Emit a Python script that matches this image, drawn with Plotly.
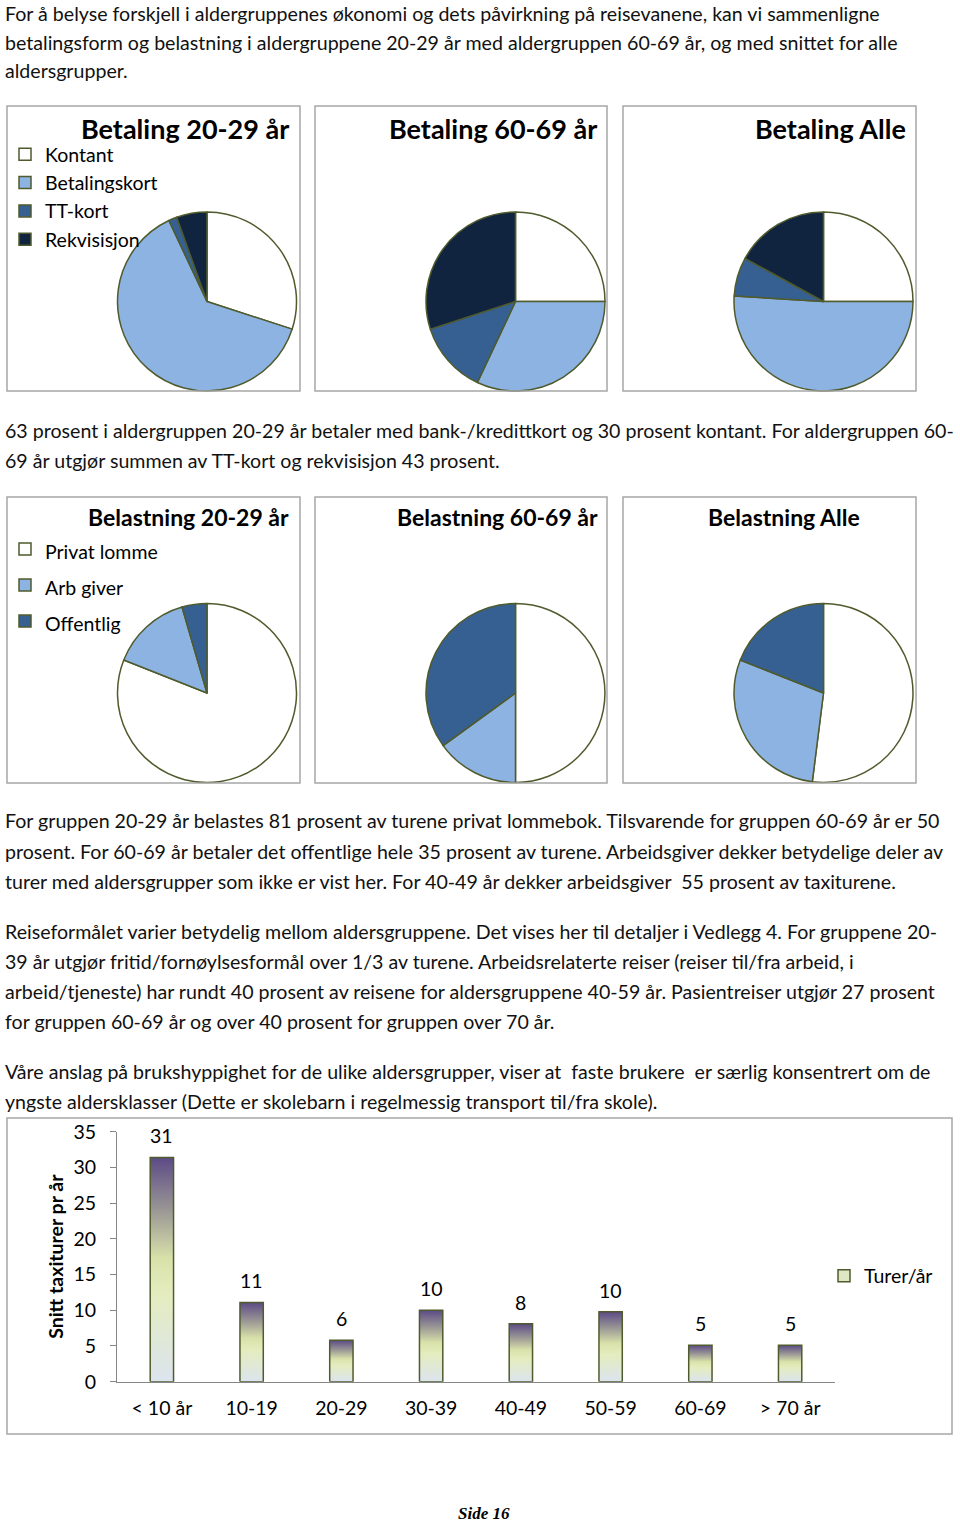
import plotly.graph_objects as go

W, H = 960, 1525


def px(x):
    return x / W


def py(y):
    return 1 - y / H


# ---- data ----
betaling_labels = ["Kontant", "Betalingskort", "TT-kort", "Rekvisisjon"]
betaling_2029 = [30, 63, 1.5, 5.5]
betaling_6069 = [25, 32, 13, 30]
betaling_alle = [25, 51, 7, 17]
betaling_titles = ["Betaling 20-29 år", "Betaling 60-69 år", "Betaling Alle"]
betaling_colors = ["#ffffff", "#8db3e2", "#376092", "#10243f"]

belastning_labels = ["Privat lomme", "Arb giver", "Offentlig"]
belastning_2029 = [81, 14.5, 4.5]
belastning_6069 = [50, 15, 35]
belastning_alle = [52, 29, 19]
belastning_titles = ["Belastning 20-29 år", "Belastning 60-69 år", "Belastning Alle"]
belastning_colors = ["#ffffff", "#8db3e2", "#376092"]

age_groups = ["< 10 år", "10-19", "20-29", "30-39", "40-49", "50-59", "60-69", "> 70 år"]
trips_per_year = [31.4, 11.1, 5.8, 10.0, 8.1, 9.8, 5.1, 5.1]

text_lines = [
    (13, "For å belyse forskjell i aldergruppenes økonomi og dets påvirkning på reisevanene, kan vi sammenligne"),
    (42, "betalingsform og belastning i aldergruppene 20-29 år med aldergruppen 60-69 år, og med snittet for alle"),
    (71, "aldersgrupper."),
    (430, "63 prosent i aldergruppen 20-29 år betaler med bank-/kredittkort og 30 prosent kontant. For aldergruppen 60-"),
    (460, "69 år utgjør summen av TT-kort og rekvisisjon 43 prosent."),
    (821, "For gruppen 20-29 år belastes 81 prosent av turene privat lommebok. Tilsvarende for gruppen 60-69 år er 50"),
    (851, "prosent. For 60-69 år betaler det offentlige hele 35 prosent av turene. Arbeidsgiver dekker betydelige deler av"),
    (881, "turer med aldersgrupper som ikke er vist her. For 40-49 år dekker arbeidsgiver  55 prosent av taxiturene."),
    (931, "Reiseformålet varier betydelig mellom aldersgruppene. Det vises her til detaljer i Vedlegg 4. For gruppene 20-"),
    (961, "39 år utgjør fritid/fornøylsesformål over 1/3 av turene. Arbeidsrelaterte reiser (reiser til/fra arbeid, i"),
    (991, "arbeid/tjeneste) har rundt 40 prosent av reisene for aldersgruppene 40-59 år. Pasientreiser utgjør 27 prosent"),
    (1021, "for gruppen 60-69 år og over 40 prosent for gruppen over 70 år."),
    (1071, "Våre anslag på brukshyppighet for de ulike aldersgrupper, viser at  faste brukere  er særlig konsentrert om de"),
    (1101, "yngste aldersklasser (Dette er skolebarn i regelmessig transport til/fra skole)."),
]

# ---- page layout ----
FONT = "Lato"
OLIVE = "#4f5b2c"
BOX = "#a6a6a6"
box_left = [7, 315, 623]
box_right = [300, 607, 916]
pie_cx = [207, 515.5, 823.5]
R = 89.5

fig = go.Figure()

# pies, row 1 and row 2
rows = [
    (betaling_labels, [betaling_2029, betaling_6069, betaling_alle], betaling_colors, 301.5, 0),
    (belastning_labels, [belastning_2029, belastning_6069, belastning_alle], belastning_colors, 693, 3),
]
for labels, series, colors, cy, offset in rows:
    for i, vals in enumerate(series):
        n = offset + i + 2
        if offset:
            shown = ["<span style='font-size:19.5px'>%s</span>" % s for s in labels]
        else:
            shown = labels
        fig.add_trace(go.Pie(
            labels=shown, values=vals, sort=False, direction="clockwise",
            marker=dict(colors=colors, line=dict(color=OLIVE, width=1.5)),
            textinfo="none", hoverinfo="label+percent",
            domain=dict(x=[px(pie_cx[i] - R), px(pie_cx[i] + R)],
                        y=[py(cy + R), py(cy - R)]),
            legend="legend%d" % n,
        ))

# bar chart: each bar is a filled polygon so it can carry a vertical gradient
bw = 0.13
gradient = [[0, "#dce4ef"], [0.4, "#e4ecbe"], [0.55, "#d9e1aa"],
            [0.75, "#9e9c96"], [1, "#5c4a86"]]
for i, v in enumerate(trips_per_year):
    fig.add_trace(go.Scatter(
        x=[i - bw, i - bw, i + bw, i + bw, i - bw], y=[0, v, v, 0, 0],
        mode="lines", fill="toself",
        fillgradient=dict(type="vertical", colorscale=gradient),
        line=dict(color=OLIVE, width=1.5),
        name="Turer/år", showlegend=False,
        hoverinfo="skip", xaxis="x", yaxis="y",
    ))
# legend key for the bar series
fig.add_trace(go.Bar(
    x=[None], y=[None], name="Turer/år",
    marker=dict(color="#dfe6c4", line=dict(color=OLIVE, width=1.5)),
))

annotations = []
for i, v in enumerate(trips_per_year):
    annotations.append(dict(
        x=i, y=v, xref="x", yref="y", text=str(round(v)), showarrow=False,
        yanchor="bottom", yshift=8, font=dict(family=FONT, size=19.5, color="#000"),
    ))

for y, t in text_lines:
    annotations.append(dict(
        x=px(3), y=py(y), xref="paper", yref="paper", text=t, showarrow=False,
        xanchor="left", yanchor="middle", font=dict(family=FONT, size=19.6, color="#111"),
    ))

title_pos = [(291, "right"), (599, "right"), (908, "right")]
for (x, anchor), t in zip(title_pos, betaling_titles):
    annotations.append(dict(
        x=px(x), y=py(128), xref="paper", yref="paper", text="<b>%s</b>" % t,
        showarrow=False, xanchor=anchor, yanchor="middle",
        font=dict(family=FONT, size=27, color="#000"),
    ))
title_pos = [(291, "right"), (600, "right"), (784, "center")]
for (x, anchor), t in zip(title_pos, belastning_titles):
    annotations.append(dict(
        x=px(x), y=py(517), xref="paper", yref="paper", text="<b>%s</b>" % t,
        showarrow=False, xanchor=anchor, yanchor="middle",
        font=dict(family=FONT, size=23, color="#000"),
    ))

annotations.append(dict(
    x=px(484), y=py(1513), xref="paper", yref="paper", text="<b><i>Side 16</i></b>",
    showarrow=False, xanchor="center", yanchor="middle",
    font=dict(family="Liberation Serif", size=17, color="#000"),
))

shapes = []
for top, bottom in [(106, 391), (497, 783)]:
    for l, r in zip(box_left, box_right):
        shapes.append(dict(type="rect", xref="paper", yref="paper",
                           x0=px(l), x1=px(r), y0=py(bottom), y1=py(top),
                           line=dict(color=BOX, width=1.5)))
shapes.append(dict(type="rect", xref="paper", yref="paper",
                   x0=px(7), x1=px(952), y0=py(1434), y1=py(1118),
                   line=dict(color=BOX, width=1.5)))

layout_legends = {}
for k in range(3):
    layout_legends["legend%d" % (k + 2)] = dict(
        x=px(box_left[k] - 2), y=py(135), xanchor="left", yanchor="top",
        bgcolor="rgba(0,0,0,0)", font=dict(family=FONT, size=19.5, color="#000"),
    )
    layout_legends["legend%d" % (k + 5)] = dict(
        x=px(box_left[k] - 2), y=py(526), xanchor="left", yanchor="top",
        bgcolor="rgba(0,0,0,0)", font=dict(family=FONT, size=25.4, color="#000"),
    )

fig.update_layout(
    width=W, height=H,
    margin=dict(l=0, r=0, t=0, b=0, autoexpand=False),
    paper_bgcolor="white", plot_bgcolor="white",
    showlegend=True,
    legend=dict(x=px(824), y=py(1276), xanchor="left", yanchor="middle",
                bgcolor="rgba(0,0,0,0)", font=dict(family=FONT, size=19.5, color="#000")),
    xaxis=dict(domain=[px(117), px(835)], range=[-0.5, 7.5],
               tickvals=list(range(len(age_groups))), ticktext=age_groups,
               showline=True, linecolor="#868686", linewidth=1.2, ticks="",
               showgrid=False, zeroline=False, ticklabelstandoff=9,
               tickfont=dict(family=FONT, size=19.5, color="#000")),
    yaxis=dict(domain=[py(1381.7), py(1131.7)], range=[0, 35], dtick=5,
               ticks="outside", ticklen=6, tickcolor="#868686",
               showline=True, linecolor="#868686", linewidth=1.2,
               showgrid=False, zeroline=False, ticklabelstandoff=10,
               tickfont=dict(family=FONT, size=19.5, color="#000")),
    annotations=annotations,
    shapes=shapes,
    **layout_legends,
)
fig.update_yaxes(title=dict(text="<b>Snitt taxiturer pr år</b>", standoff=4,
                            font=dict(family=FONT, size=19.5, color="#000")))

fig.write_html("out.html", config={"displayModeBar": False},
               post_script="document.body.style.margin='0';")
